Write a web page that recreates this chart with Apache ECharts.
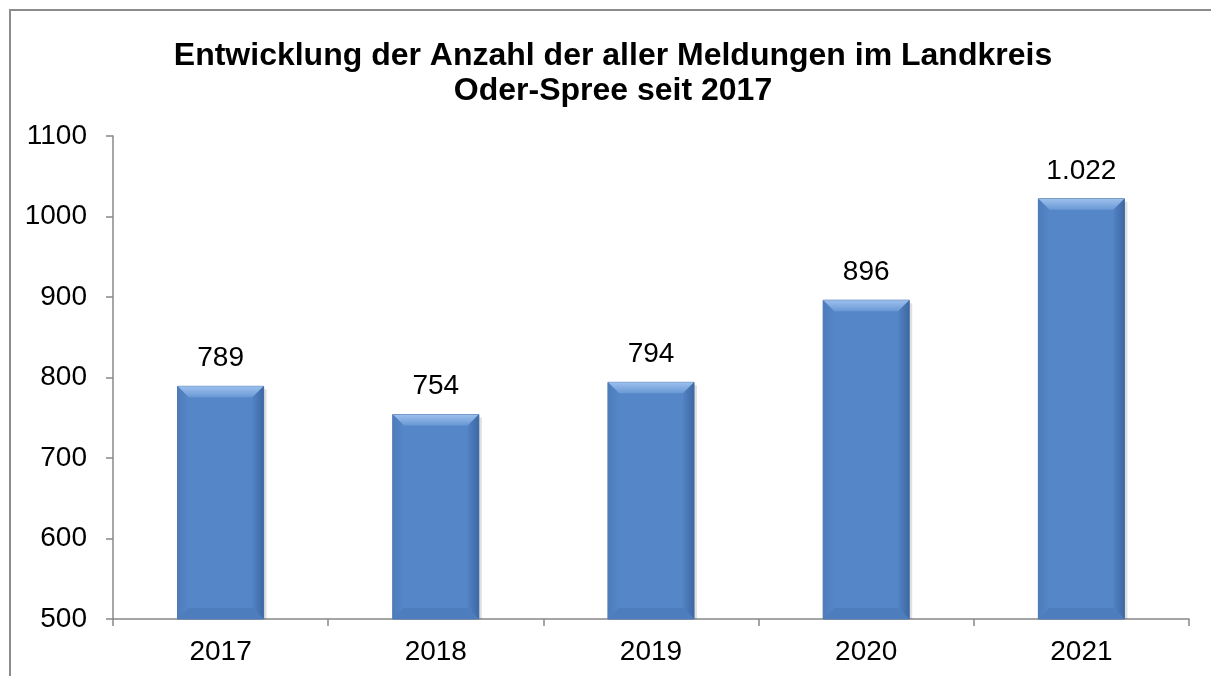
<!DOCTYPE html>
<html><head><meta charset="utf-8">
<script src="https://cdn.jsdelivr.net/npm/echarts@6/dist/echarts.min.js"></script>
<style>html,body{margin:0;padding:0;background:#fff}#c{width:1211px;height:676px}</style>
</head><body><div id="c"></div>
<script>
const categories = ['2017', '2018', '2019', '2020', '2021'];
const values = [789, 754, 794, 896, 1022];
const yTicks = [500, 600, 700, 800, 900, 1000, 1100];

function fmt(v) { return String(v).replace(/\B(?=(\d{3})+(?!\d))/g, '.'); }

const chart = echarts.init(document.getElementById('c'));
const F = 'Liberation Sans, Arial, sans-serif';

function renderBar(params, api) {
  const idx = api.value(0);
  const val = api.value(1);
  const top = api.coord([idx, val]);
  const base = api.coord([idx, yTicks[0]]);
  const bw = api.size([1, 0])[0] * 0.4;
  const x0 = top[0] - bw / 2, x1 = top[0] + bw / 2;
  const y0 = top[1], y1 = base[1];
  const b = 11;
  return {
    type: 'group',
    children: [
      { type: 'rect', shape: { x: x0 + 3, y: y0 + 3, width: bw, height: y1 - y0 - 3 }, style: { fill: 'rgba(0,0,0,0.12)' } },
      { type: 'rect', shape: { x: x0, y: y0, width: bw, height: y1 - y0 }, style: { fill: '#5586C8', stroke: '#4A73A8', lineWidth: 1 } },
      { type: 'polygon', shape: { points: [[x0, y0], [x1, y0], [x1 - b, y0 + b], [x0 + b, y0 + b]] }, style: { fill: new echarts.graphic.LinearGradient(0, 0, 0, 1, [{ offset: 0, color: '#9CC0EE' }, { offset: 1, color: '#6A98D4' }]) } },
      { type: 'polygon', shape: { points: [[x0, y0], [x0 + b, y0 + b], [x0 + b, y1 - b], [x0, y1]] }, style: { fill: new echarts.graphic.LinearGradient(0, 0, 1, 0, [{ offset: 0, color: '#4E7CBB' }, { offset: 1, color: '#5586C8' }]) } },
      { type: 'polygon', shape: { points: [[x1, y0], [x1 - b, y0 + b], [x1 - b, y1 - b], [x1, y1]] }, style: { fill: new echarts.graphic.LinearGradient(0, 0, 1, 0, [{ offset: 0, color: '#5282C3' }, { offset: 1, color: '#3E68A3' }]) } },
      { type: 'polygon', shape: { points: [[x0, y1], [x0 + b, y1 - b], [x1 - b, y1 - b], [x1, y1]] }, style: { fill: '#4E7DBD' } },
      { type: 'text', x: top[0], y: y0 - 28, style: { text: fmt(val), font: '28px ' + F, fill: '#000', align: 'center', verticalAlign: 'middle' } }
    ]
  };
}

chart.setOption({
  animation: false,
  backgroundColor: '#fff',
  graphic: [
    { type: 'rect', shape: { x: 10, y: 10, width: 1300, height: 800 }, style: { fill: 'none', stroke: '#8c8c8c', lineWidth: 2 }, z: -1 }
  ],
  title: {
    text: 'Entwicklung der Anzahl der aller Meldungen im Landkreis\nOder-Spree seit 2017',
    left: 608, top: 34, textAlign: 'center',
    textStyle: { fontFamily: F, fontSize: 32, fontWeight: 'bold', color: '#000', lineHeight: 35 }
  },
  grid: { left: 113, right: 22, top: 136, bottom: 57 },
  xAxis: {
    type: 'category', data: categories,
    axisLine: { lineStyle: { color: '#888', width: 1.5 } },
    axisTick: { show: true, length: 7, alignWithLabel: false, lineStyle: { color: '#888', width: 1.5 } },
    axisLabel: { fontFamily: F, fontSize: 28, color: '#000', margin: 19 },
    splitLine: { show: false }
  },
  yAxis: {
    type: 'value', min: 500, max: 1100, interval: 100,
    axisLine: { show: true, lineStyle: { color: '#888', width: 1.5 } },
    axisTick: { show: true, length: 7, lineStyle: { color: '#888', width: 1.5 } },
    axisLabel: { fontFamily: F, fontSize: 28, color: '#000', margin: 26, formatter: v => String(v) },
    splitLine: { show: false }
  },
  series: [{
    type: 'custom',
    renderItem: renderBar,
    data: values.map((v, i) => [i, v]),
    encode: { x: 0, y: 1 },
    clip: false
  }]
});
</script></body></html>
